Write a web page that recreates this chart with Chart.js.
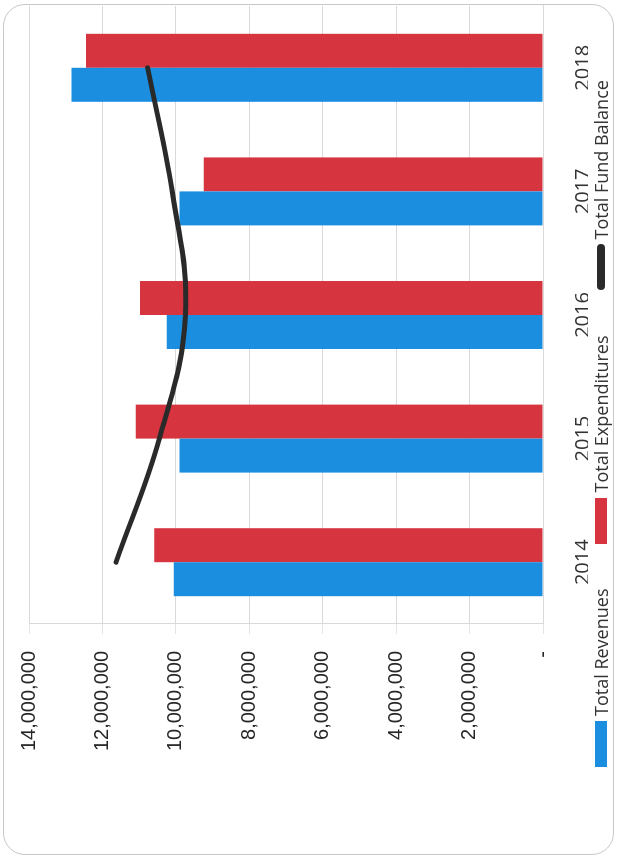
<!DOCTYPE html>
<html>
<head>
<meta charset="utf-8">
<script src="https://cdn.jsdelivr.net/npm/chart.js@4.4.1/dist/chart.umd.min.js"></script>
<style>
  html, body { margin: 0; padding: 0; background: #fff; width: 618px; height: 859px; overflow: hidden; }
  .frame { position: absolute; left: 3px; top: 4px; width: 611px; height: 851px; border: 1.5px solid #c8c8c8; border-radius: 22px; box-sizing: border-box; }
  /* the chart is drawn upright (859 x 618) and then turned a quarter left */
  .rotated { position: absolute; left: 0; top: 0; width: 859px; height: 618px; transform-origin: 0 0; transform: translate(0, 859px) rotate(-90deg); }
  #fund-chart { position: absolute; left: 0; top: 0; }
  .legend { position: absolute; top: 589px; left: 92px; display: flex; align-items: center; font: 18px "Open Sans", sans-serif; color: #333333; white-space: nowrap; }
  .legend-item { display: flex; align-items: center; margin-right: 45px; }
  .legend-mark { display: inline-block; width: 46px; height: 12px; margin-right: 5px; }
  .legend-mark.line { height: 8px; border-radius: 4px; }
</style>
</head>
<body>
<div class="frame"></div>
<div class="rotated">
  <canvas id="fund-chart" width="859" height="618"></canvas>
  <div class="legend" id="legend"></div>
</div>

<script>
// -------- data -------- //
const years = ["2014", "2015", "2016", "2017", "2018"];
const totalRevenues = [10060000, 9900000, 10250000, 9900000, 12840000];
const totalExpenditures = [10590000, 11090000, 10980000, 9240000, 12450000];
const totalFundBalance = [11630000, 10450000, 9740000, 10100000, 10770000];
const valueTicks = [0, 2000000, 4000000, 6000000, 8000000, 10000000, 12000000, 14000000];

const blue = '#1B8EE0';
const red = '#D6343F';
const black = '#2a2a2a';

const fundCanvas = document.getElementById("fund-chart");

const fundData = {
    labels: years,
    datasets: [{
        type: 'bar',
        label: 'Total Revenues',
        data: totalRevenues,
        backgroundColor: blue,
        categoryPercentage: 0.55,
        barPercentage: 1,
        order: 1
    }, {
        type: 'bar',
        label: 'Total Expenditures',
        data: totalExpenditures,
        backgroundColor: red,
        categoryPercentage: 0.55,
        barPercentage: 1,
        order: 1
    }, {
        type: 'line',
        label: 'Total Fund Balance',
        data: totalFundBalance,
        borderColor: black,
        backgroundColor: black,
        borderWidth: 5,
        tension: 0.4,
        pointRadius: 0,
        borderCapStyle: 'round',
        order: 0
    }]
};

const fundOptions = {
    responsive: false,
    animation: false,
    devicePixelRatio: 1,
    layout: {
        padding: { top: 20, right: 6, bottom: 30, left: 0 }
    },
    scales: {
        x: {
            grid: { display: false },
            border: { display: true, color: '#d9d9d9' },
            ticks: {
                padding: 20,
                color: '#333333',
                font: { family: '"Open Sans", sans-serif', size: 20 }
            },
            afterFit: (scale) => { scale.height = 45; }
        },
        y: {
            min: 0,
            max: 14000000,
            afterBuildTicks: (scale) => { scale.ticks = valueTicks.map(v => ({ value: v })); },
            grid: { color: '#d9d9d9', lineWidth: 1, tickLength: 10, tickColor: '#e4e4e4' },
            border: { display: true, color: '#d9d9d9' },
            ticks: {
                padding: 17,
                color: '#262626',
                font: { family: '"Liberation Sans", Arial, sans-serif', size: 20 },
                callback: (v) => v === 0 ? '-' : v.toLocaleString('en-US')
            },
            afterFit: (scale) => { scale.width = 235; }
        }
    },
    plugins: {
        legend: { display: false },
        tooltip: { enabled: false }
    }
};

let fundChart = new Chart(fundCanvas, {
    type: 'bar',
    data: fundData,
    options: fundOptions
});

// legend built from the chart's own datasets
const legend = document.getElementById("legend");
fundChart.data.datasets.forEach(ds => {
    const item = document.createElement('div');
    item.className = 'legend-item';
    const mark = document.createElement('span');
    mark.className = 'legend-mark' + (ds.type === 'line' ? ' line' : '');
    mark.style.background = ds.type === 'line' ? ds.borderColor : ds.backgroundColor;
    const text = document.createElement('span');
    text.textContent = ds.label;
    item.appendChild(mark);
    item.appendChild(text);
    legend.appendChild(item);
});
</script>
</body>
</html>
